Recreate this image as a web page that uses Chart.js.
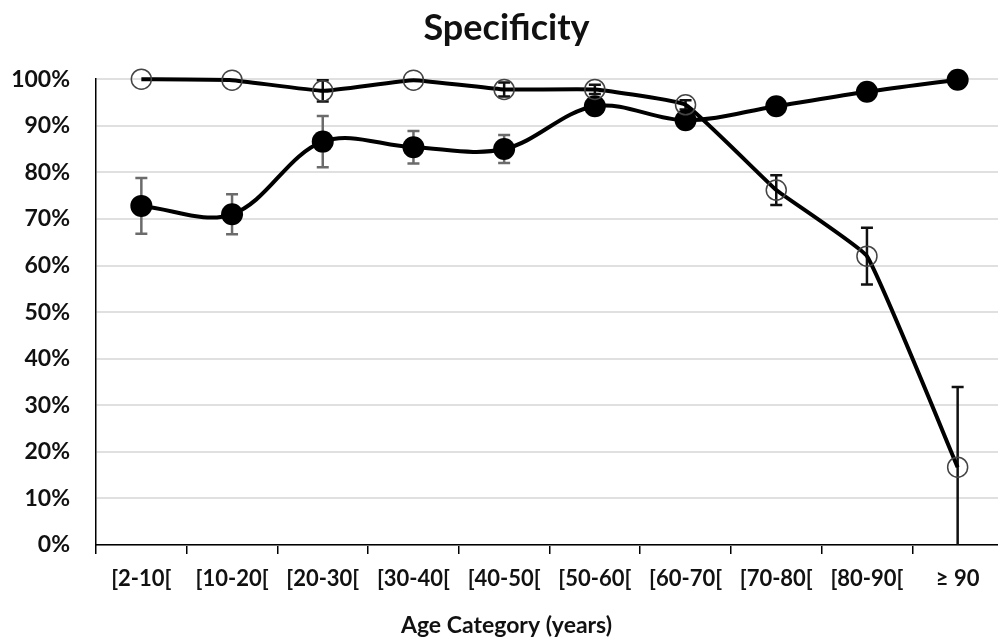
<!DOCTYPE html>
<html>
<head>
<meta charset="utf-8">
<script src="https://cdn.jsdelivr.net/npm/chart.js@4"></script>
<style>
  html, body { margin: 0; padding: 0; background: #fff; overflow: hidden; }
  #wrap { width: 1022px; height: 642px; position: relative; }
</style>
</head>
<body>
<div id="wrap"><canvas id="specChart"></canvas></div>
<script>
// categorías de edad
const categorias = ['[2-10[', '[10-20[', '[20-30[', '[30-40[', '[40-50[', '[50-60[', '[60-70[', '[70-80[', '[80-90[', '\u2265 90'];

// serie de círculos abiertos
const serieAbierta = [100, 99.8, 97.5, 99.8, 97.8, 97.8, 94.5, 76.2, 62.0, 16.7];
const errorAbierta = [0, 0, 2.3, 0, 1.5, 1.0, 1.0, 3.2, 6.1, 17.2];

// serie de círculos rellenos
const serieRellena = [72.8, 71.0, 86.6, 85.4, 85.0, 94.2, 91.2, 94.2, 97.3, 99.9];
const errorRellena = [6.0, 4.3, 5.5, 3.5, 3.0, 0, 0, 0, 1.5, 0];

// marcas del eje Y
const ticksY = [0, 10, 20, 30, 40, 50, 60, 70, 80, 90, 100];

const fuente = 'Lato, "Open Sans", sans-serif';

// Plugin para dibujar barras de error con las escalas del gráfico
const barrasError = {
    id: 'barrasError',
    beforeDatasetsDraw(chart) {
        const ctx = chart.ctx;
        const x = chart.scales.x;
        const y = chart.scales.y;
        const grupos = [
            { valores: serieRellena, errores: errorRellena, color: '#6b6b6b', cap: 6 },
            { valores: serieAbierta, errores: errorAbierta, color: '#111', cap: 6 }
        ];
        ctx.save();
        grupos.forEach(g => {
            ctx.strokeStyle = g.color;
            ctx.lineWidth = 2.5;
            g.valores.forEach((v, i) => {
                const e = g.errores[i];
                if (!e) return;
                const px = x.getPixelForValue(i);
                const hi = Math.min(v + e, 100);
                const lo = Math.max(v - e, 0);
                const yTop = y.getPixelForValue(hi);
                const yBot = y.getPixelForValue(lo);
                ctx.beginPath();
                ctx.moveTo(px, yTop);
                ctx.lineTo(px, yBot);
                ctx.moveTo(px - g.cap, yTop);
                ctx.lineTo(px + g.cap, yTop);
                if (lo > 0) {
                    ctx.moveTo(px - g.cap, yBot);
                    ctx.lineTo(px + g.cap, yBot);
                }
                ctx.stroke();
            });
        });
        ctx.restore();
    }
};

new Chart(document.getElementById('specChart').getContext('2d'), {
    type: 'line',
    data: {
        labels: categorias,
        datasets: [
            {
                label: 'Abierta',
                data: serieAbierta,
                borderColor: '#000',
                borderWidth: 4,
                tension: 0.1,
                pointRadius: 10,
                pointBorderWidth: 1.5,
                pointBorderColor: '#444',
                pointBackgroundColor: 'rgba(255,255,255,0)',
                clip: false
            },
            {
                label: 'Rellena',
                data: serieRellena,
                borderColor: '#000',
                borderWidth: 4,
                tension: 0.35,
                pointRadius: 11,
                pointBorderWidth: 0,
                pointBackgroundColor: '#000',
                clip: false
            }
        ]
    },
    options: {
        responsive: true,
        maintainAspectRatio: false,
        animation: false,
        layout: { padding: { left: 10, right: 19, top: 0, bottom: 0 } },
        plugins: {
            legend: { display: false },
            tooltip: { enabled: false },
            title: {
                display: true,
                text: 'Specificity',
                color: '#111',
                font: { family: fuente, size: 36, weight: 'bold' },
                padding: { top: 7, bottom: 29 }
            },
            // título del eje X, centrado sobre todo el lienzo como en el original
            subtitle: {
                display: true,
                position: 'bottom',
                text: 'Age Category (years)',
                color: '#111',
                font: { family: fuente, size: 23, weight: 'bold' },
                padding: { top: 0, bottom: 3 }
            }
        },
        scales: {
            x: {
                type: 'category',
                offset: true,
                grid: {
                    drawOnChartArea: false,
                    drawTicks: true,
                    tickLength: 9,
                    color: '#000',
                    lineWidth: 1.5,
                    offset: true
                },
                border: { color: '#000', width: 1.5 },
                ticks: {
                    color: '#111',
                    font: { family: fuente, size: 22, weight: 'bold' },
                    padding: 12,
                    maxRotation: 0,
                    autoSkip: false
                },
                afterFit(scale) { scale.height = 66.4; }
            },
            y: {
                min: 0,
                max: 100,
                afterBuildTicks(scale) { scale.ticks = ticksY.map(v => ({ value: v })); },
                grid: {
                    color: '#e0e0e0',
                    lineWidth: 2,
                    drawTicks: false
                },
                border: { color: '#000', width: 1.5 },
                ticks: {
                    color: '#111',
                    font: { family: fuente, size: 23, weight: 'bold' },
                    padding: 26,
                    callback: v => v + '%'
                },
                afterFit(scale) { scale.width = 86; }
            }
        }
    },
    plugins: [barrasError]
});
</script>
</body>
</html>
